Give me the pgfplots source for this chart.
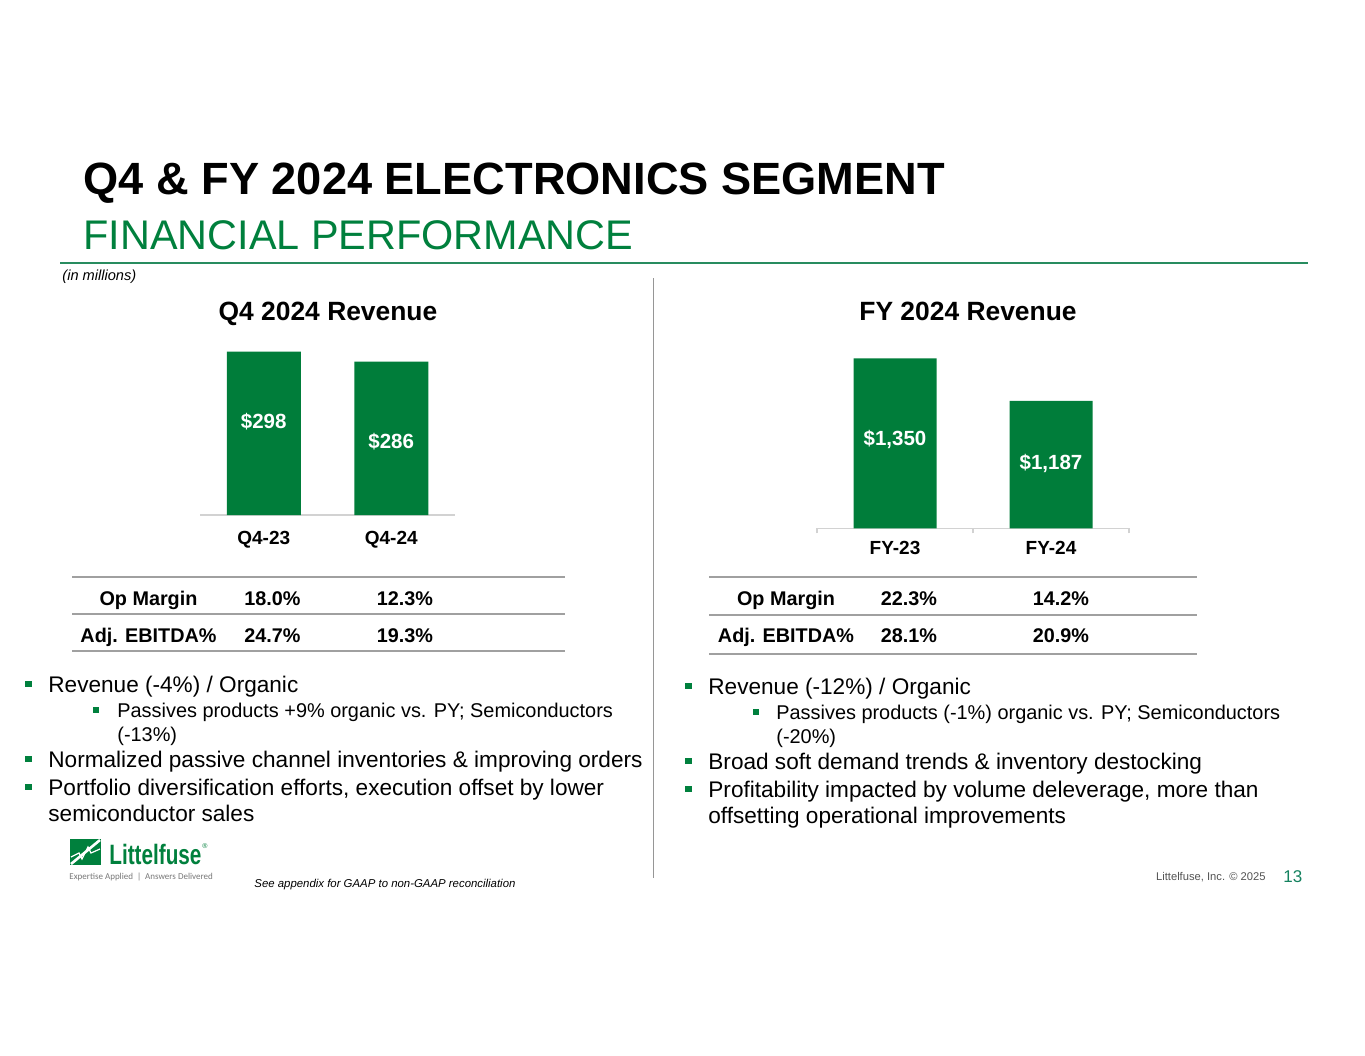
\documentclass[border=0pt]{standalone}
\usepackage{fontspec}
\setmainfont{Liberation Sans}
\newfontfamily\tagfont{Carlito}
\usepackage{graphicx}
\usepackage{pgfplots}
\pgfplotsset{compat=1.18}
\usepackage{pgfplotstable}

\definecolor{lfgreen}{RGB}{0,128,61}
\definecolor{bargreen}{RGB}{0,125,58}
\definecolor{rulegreen}{RGB}{40,140,95}
\definecolor{rulegray}{RGB}{160,160,160}
\definecolor{axisgray}{RGB}{210,210,210}
\definecolor{divgray}{RGB}{150,150,150}
\definecolor{pagegreen}{RGB}{20,130,95}
\definecolor{taggray}{RGB}{120,120,120}

\newcommand{\fs}[1]{\fontsize{#1}{#1}\selectfont}

% revenue in $ millions; ly is where the value label sits inside the bar
\pgfplotstableread{
x val ly
0 298 213
1 286 189
}\qfour
\pgfplotstableread{
x val ly
0 1350 1038
1 1187 948
}\fyear

\pgfplotsset{
  revbars/.style={
    scale only axis, clip=false,
    xmin=-0.5, xmax=1.5,
    axis y line=none, axis x line*=bottom,
    x axis line style={draw=axisgray, line width=0.8pt},
    xtick={0,1}, major tick length=0pt,
    xticklabel style={font=\fs{9.5}\bfseries, anchor=base},
  },
  revlabels/.style={
    draw=none, point meta=explicit,
    nodes near coords={\$\pgfmathprintnumber[assume math mode=true,1000 sep={,}]{\pgfplotspointmeta}},
    every node near coord/.append style={anchor=center, text=white, font=\fs{10.25}\bfseries},
  },
}

\begin{document}
\begin{tikzpicture}
\begin{scope}[x=0.5pt,y=-0.5pt]
\useasboundingbox (0,0) rectangle (1365,1055);
\fill[white] (0,0) rectangle (1365,1055);

% heading
\node[anchor=base west, inner sep=0] at (83,194.3) {\fs{22.6}\bfseries Q4 \& FY 2024 ELECTRONICS SEGMENT};
\node[anchor=base west, inner sep=0, text=lfgreen] at (83,249) {\fs{20.7}FINANCIAL PERFORMANCE};
\draw[rulegreen, line width=1pt] (60,263) -- (1308,263);
\node[anchor=west, inner sep=0] at (62,277) {\fs{7.3}\itshape (in millions)};
\draw[divgray, line width=0.75pt] (653.5,278) -- (653.5,878);

% chart titles
\node[anchor=base, inner sep=0] at (328,320.5) {\fs{13.2}\bfseries Q4 2024 Revenue};
\node[anchor=base, inner sep=0] at (968,320.5) {\fs{13.2}\bfseries FY 2024 Revenue};

% margin tables
\foreach \yy in {577,614,651} \draw[rulegray, line width=1pt] (72,\yy) -- (565,\yy);
\foreach \yy in {577,615,654} \draw[rulegray, line width=1pt] (709,\yy) -- (1197,\yy);
\begin{scope}[every node/.style={anchor=base, inner sep=0, font=\fs{9.9}\bfseries}]
\node at (148.5,605) {Op Margin};
\node at (272.5,605) {18.0\%};
\node at (405,605) {12.3\%};
\node at (148.5,642) {Adj. EBITDA\%};
\node at (272.5,642) {24.7\%};
\node at (405,642) {19.3\%};
\node at (786,605) {Op Margin};
\node at (909,605) {22.3\%};
\node at (1061,605) {14.2\%};
\node at (786,642) {Adj. EBITDA\%};
\node at (909,642) {28.1\%};
\node at (1061,642) {20.9\%};
\end{scope}

% bullet points
\begin{scope}[every node/.style={anchor=base west, inner sep=0}]
\fill[lfgreen] (25,680.5) rectangle (31.5,687);
\node at (48,692) {\fs{11.3}Revenue (-4\%) / Organic};
\fill[lfgreen] (93,707) rectangle (98.5,712.5);
\node at (117,717) {\fs{9.95}Passives products +9\% organic vs. PY; Semiconductors};
\node at (117,741) {\fs{9.95}(-13\%)};
\fill[lfgreen] (25,755.5) rectangle (31.5,762);
\node at (48,767) {\fs{11.3}Normalized passive channel inventories \& improving orders};
\fill[lfgreen] (25,783.5) rectangle (31.5,790);
\node at (48,795) {\fs{11.3}Portfolio diversification efforts, execution offset by lower};
\node at (48,821) {\fs{11.3}semiconductor sales};

\fill[lfgreen] (685,682.5) rectangle (691.5,689);
\node at (708,694) {\fs{11.3}Revenue (-12\%) / Organic};
\fill[lfgreen] (753,709) rectangle (758.5,714.5);
\node at (776,719) {\fs{9.95}Passives products (-1\%) organic vs. PY; Semiconductors};
\node at (776,743) {\fs{9.95}(-20\%)};
\fill[lfgreen] (685,757.5) rectangle (691.5,764);
\node at (708,769) {\fs{11.3}Broad soft demand trends \& inventory destocking};
\fill[lfgreen] (685,785.5) rectangle (691.5,792);
\node at (708,797) {\fs{11.3}Profitability impacted by volume deleverage, more than};
\node at (708,823) {\fs{11.3}offsetting operational improvements};
\end{scope}

% logo
\fill[lfgreen] (70,839) rectangle (101,865);
\draw[white, line width=1.3pt] (71,864) -- (100,840);
\draw[white, line width=0.6pt] (71,857) -- (79,853) -- (82,859) -- (88,847) -- (91,853) -- (100,849);
\node[anchor=base west, inner sep=0, text=lfgreen] at (109,864) {\scalebox{0.74}[1]{\fs{14}\bfseries Littelfuse}};
\node[anchor=center, inner sep=0, text=lfgreen] at (205,846) {\fs{3.5}\textregistered};
\node[anchor=west, inner sep=0, text=taggray] at (69,877) {\tagfont\fs{4.5}Expertise Applied\hspace{2pt}|\hspace{2pt}Answers Delivered};

% footer
\node[anchor=west, inner sep=0] at (254,885) {\fs{5.7}\itshape See appendix for GAAP to non-GAAP reconciliation};
\node[anchor=east, inner sep=0, text=taggray!70!black] at (1266,877) {\fs{5.6}Littelfuse, Inc. \textcopyright{} 2025};
\node[anchor=west, inner sep=0, text=pagegreen] at (1283,877) {\fs{8.5}13};
\end{scope}

% Q4 revenue bars
\begin{axis}[revbars,
  at={(100pt,-257.5pt)}, anchor=south west,
  width=127.5pt, height=82.5pt,
  ymin=100, ymax=300,
  xticklabels={Q4-23,Q4-24},
  xticklabel style={yshift=-14.9pt},
]
\addplot[ybar, bar width=37pt, bar shift=0pt, fill=bargreen, draw=none] table[x=x, y=val]{\qfour};
\addplot[revlabels] table[x=x, y=ly, meta=val]{\qfour};
\end{axis}

% full-year revenue bars
\begin{axis}[revbars,
  at={(408.5pt,-264.15pt)}, anchor=south west,
  width=156pt, height=91.5pt,
  ymin=700, ymax=1400,
  xticklabels={FY-23,FY-24},
  xticklabel style={yshift=-13.25pt},
  extra x ticks={-0.5,0.5,1.5}, extra x tick labels={},
  extra x tick style={major tick length=2.5pt, tick align=outside,
    tick style={draw=axisgray, line width=0.8pt}},
]
\addplot[ybar, bar width=41.5pt, bar shift=0pt, fill=bargreen, draw=none] table[x=x, y=val]{\fyear};
\addplot[revlabels] table[x=x, y=ly, meta=val]{\fyear};
\end{axis}
\end{tikzpicture}
\end{document}
